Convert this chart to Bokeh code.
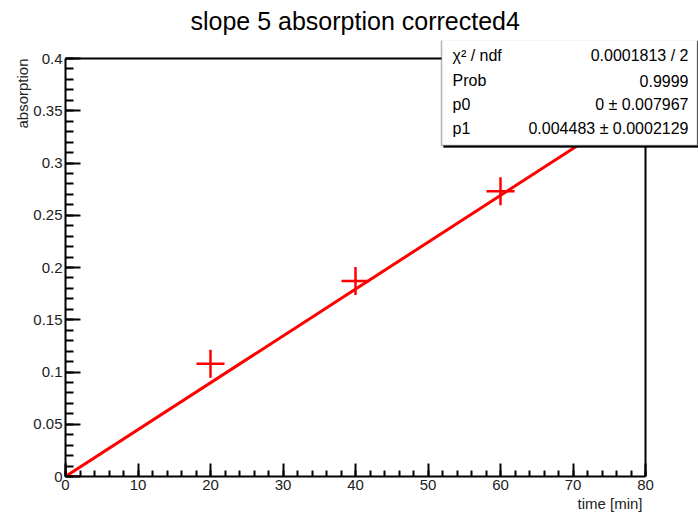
from bokeh.plotting import figure
from bokeh.models import (Range1d, FixedTicker, NumeralTickFormatter, Label, BoxAnnotation,
                          ColumnDataSource, Title)
from bokeh.embed import file_html
from bokeh.resources import INLINE

# ---- data ----
title_text = "slope 5 absorption corrected4"
x_label = "time [min]"
y_label = "absorption"
times = [0, 20, 40, 60]
absorption = [0.0, 0.108, 0.187, 0.273]
p0 = 0.0
p1 = 0.004483
x_lim = [0, 80]
y_lim = [0, 0.4]
x_ticks = [0, 10, 20, 30, 40, 50, 60, 70, 80]
y_ticks = [0, 0.05, 0.1, 0.15, 0.2, 0.25, 0.3, 0.35, 0.4]
stat_names = ["χ² / ndf", "Prob", "p0", "p1"]
stat_values = ["0.0001813 / 2", "0.9999", "0 ± 0.007967", "0.004483 ± 0.0002129"]

FONT = "Liberation Sans"
# frame geometry (pixels): axes box drawn from 65..645 (x) and 58..476 (y);
# the plotting frame is widened to the canvas edge so the stat box can overlap it.
L, T = 65, 40
AX_W, AX_H = 580, 418          # pixel size of the drawn axes box
FW, FH = 633, 436              # frame size
x_end = x_lim[0] + (x_lim[1] - x_lim[0]) * FW / AX_W
y_end = y_lim[0] + (y_lim[1] - y_lim[0]) * FH / AX_H

p = figure(frame_width=FW, frame_height=FH, output_backend="svg", toolbar_location=None,
           x_range=Range1d(x_lim[0], x_end), y_range=Range1d(y_lim[0], y_end),
           min_border_left=L, min_border_right=0, min_border_top=T, min_border_bottom=37)
p.background_fill_color = "white"
p.border_fill_color = "white"
p.outline_line_color = None
p.grid.visible = False

p.title.text = title_text
p.title.text_font = FONT
p.title.text_font_size = "25px"
p.title.text_font_style = "normal"
p.title.text_color = "black"
p.title.align = "left"
p.title.vertical_align = "middle"
p.title.offset = 125
p.title.standoff = 10

p.xaxis.ticker = FixedTicker(ticks=x_ticks, minor_ticks=list(range(0, 81, 2)))
p.yaxis.ticker = FixedTicker(ticks=y_ticks, minor_ticks=[i / 100 for i in range(0, 41)])
p.yaxis.formatter = NumeralTickFormatter(format="0.[00]")
p.xaxis.bounds = tuple(x_lim)
p.yaxis.bounds = tuple(y_lim)
for ax in (p.xaxis[0], p.yaxis[0]):
    ax.axis_line_width = 2
    ax.axis_line_color = "black"
    ax.major_tick_out = 0
    ax.minor_tick_out = 0
    ax.major_tick_line_width = 2
    ax.minor_tick_line_width = 2
    ax.major_label_text_font = FONT
    ax.major_label_text_font_size = "15px"
    ax.major_label_text_color = "#222222"
    ax.major_label_standoff = 3
p.yaxis.major_tick_in = 15
p.yaxis.minor_tick_in = 8
p.xaxis.major_tick_in = 13
p.xaxis.minor_tick_in = 6

p.add_layout(Title(text=x_label, align="right", offset=56, standoff=0, text_font=FONT,
                   text_font_size="15px", text_font_style="normal", text_color="#222222"), "below")
p.add_layout(Title(text=y_label, align="right", offset=18, standoff=0, text_font=FONT,
                   text_font_size="15px", text_font_style="normal", text_color="#222222"), "left")

# axes box top and right edges
p.line([x_lim[0], x_lim[1], x_lim[1]], [y_lim[1], y_lim[1], y_lim[0]], line_color="black", line_width=2)

src = ColumnDataSource(dict(x=times, y=absorption))
fx = x_lim
fy = [p0 + p1 * v for v in fx]
p.line(fx, fy, line_color="#ff0000", line_width=3)
p.scatter("x", "y", source=src, marker="cross", size=28, line_color="#ff0000", line_width=2.5)

# stat box
bx0, by0, bx1, by1 = 441, 39, 697, 145
box_units = dict(left_units="canvas", right_units="canvas", top_units="canvas", bottom_units="canvas")
p.add_layout(BoxAnnotation(left=bx0 + 2, right=bx1 + 2, top=by0 + 2, bottom=by1 + 2, **box_units,
                           fill_color="black", fill_alpha=1, line_color="black"))
p.add_layout(BoxAnnotation(left=bx0, right=bx1, top=by0, bottom=by1, **box_units,
                           fill_color="white", fill_alpha=1, line_color="black", line_width=1.5))
rows_y = [55, 80, 104, 128]
for name, val, yy in zip(stat_names, stat_values, rows_y):
    p.add_layout(Label(x=452, y=yy, x_units="canvas", y_units="canvas", text=name,
                       text_font=FONT, text_font_size="16px", text_align="left",
                       text_baseline="middle", text_color="black"))
    p.add_layout(Label(x=688, y=yy, x_units="canvas", y_units="canvas", text=val,
                       text_font=FONT, text_font_size="16px", text_align="right",
                       text_baseline="middle", text_color="black"))

open("out.html", "w").write(file_html(p, INLINE))
